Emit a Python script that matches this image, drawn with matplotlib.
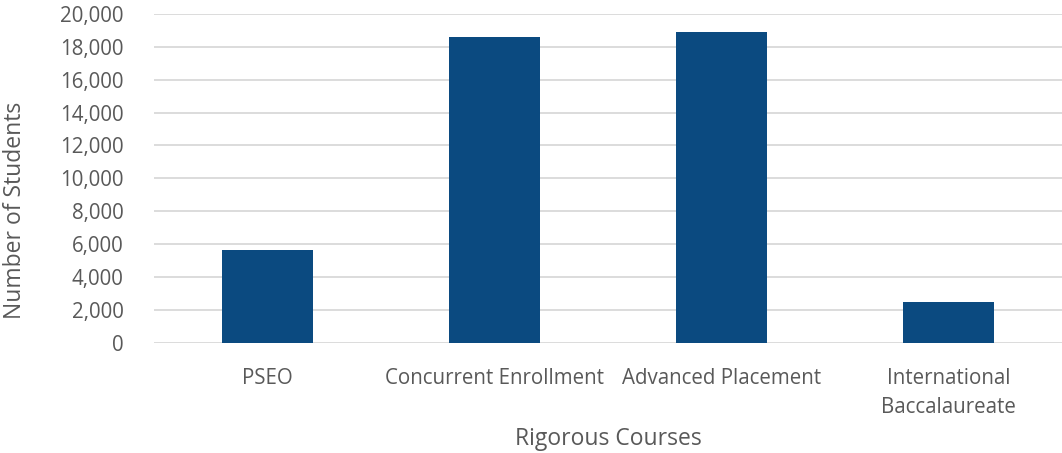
import matplotlib
matplotlib.use('Agg')
import matplotlib.pyplot as plt
from matplotlib.ticker import FuncFormatter, MultipleLocator

# chart data
courses = ['PSEO', 'Concurrent Enrollment', 'Advanced Placement', 'International\nBaccalaureate']
students = [5620, 18580, 18880, 2500]

plt.rcParams['font.family'] = ['Open Sans', 'DejaVu Sans']
text_grey = '#595959'
bar_blue = '#0B4A80'

fig = plt.figure(figsize=(10.62, 4.53), dpi=100)
ax = fig.add_axes([154 / 1062, (453 - 342.7) / 453, (1062 - 154) / 1062, (342.7 - 14) / 453])

x = list(range(len(courses)))
ax.bar(x, students, width=0.4, color=bar_blue, zorder=3)

ax.set_xlim(-0.5, len(courses) - 0.5)
ax.set_ylim(0, 20000)
ax.yaxis.set_major_locator(MultipleLocator(2000))
ax.yaxis.set_major_formatter(FuncFormatter(lambda v, p: f'{int(v):,}'))
ax.grid(axis='y', color='#D9D9D9', linewidth=1.3, zorder=0)

for s in ax.spines.values():
    s.set_visible(False)
ax.tick_params(axis='both', length=0, colors=text_grey, labelsize=14.8)
ax.tick_params(axis='y', pad=22)
ax.tick_params(axis='x', pad=18)
ax.set_xticks(x)
ax.set_xticklabels(courses, linespacing=1.5)

# axis titles placed by hand, like the reference
fig.text(608 / 1062, 1 - 439 / 453, 'Rigorous Courses', color=text_grey,
         fontsize=16.5, ha='center', va='center')
fig.text(15 / 1062, 1 - 210 / 453, 'Number of Students', rotation=90, color=text_grey,
         fontsize=16.5, ha='center', va='center')

fig.savefig('out.png', dpi=100)
